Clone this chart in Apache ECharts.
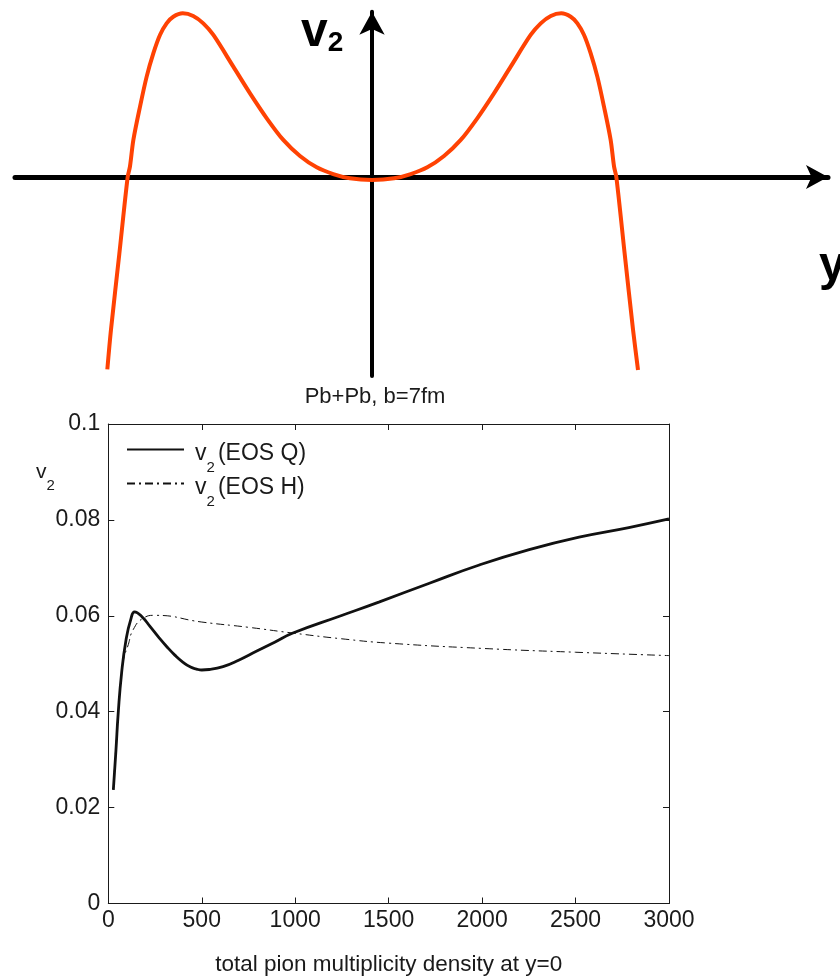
<!DOCTYPE html>
<html>
<head>
<meta charset="utf-8">
<script src="https://cdn.jsdelivr.net/npm/echarts@6/dist/echarts.min.js"></script>
<style>
  html, body { margin: 0; padding: 0; background: #fff; }
  #chart { width: 840px; height: 978px; }
</style>
</head>
<body>
<div id="chart"></div>
<script>
// Schematic v2(y): rapidity in units of the peak position, v2 in units of the peak height
const schemRapidity = [-1.393, -1.374, -1.33, -1.286, -1.274, -1.256, -1.221, -1.186, -1.151, -1.116, -1.081, -1.046, -0.996, -0.941, -0.888, -0.835,
                       -0.730, -0.642, -0.554, -0.467, -0.379, -0.291, -0.204, -0.116, 0.0,
                       0.116, 0.204, 0.291, 0.379, 0.467, 0.554, 0.642, 0.730,
                       0.835, 0.888, 0.941, 0.996, 1.046, 1.081, 1.116, 1.151, 1.186, 1.221, 1.256, 1.274, 1.286, 1.33, 1.374, 1.40];
const schemV2 = [-1.173, -0.933, -0.47, 0.0, 0.063, 0.226, 0.429, 0.612, 0.754, 0.866, 0.937, 0.977, 0.998, 0.982, 0.937, 0.866,
                 0.673, 0.510, 0.358, 0.226, 0.128, 0.059, 0.018, -0.008, -0.018,
                 -0.008, 0.018, 0.059, 0.128, 0.226, 0.358, 0.510, 0.673,
                 0.866, 0.937, 0.982, 0.998, 0.977, 0.937, 0.866, 0.754, 0.612, 0.429, 0.226, 0.063, 0.0, -0.47, -0.933, -1.177];

// Pb+Pb, b=7fm: elliptic flow vs total pion multiplicity density at y=0
const multQ = [27, 41, 53, 71, 95, 120, 141, 180, 223, 270, 312, 356, 400, 440, 472, 500, 540, 614, 700, 792, 890, 988,
               1237, 1451, 1718, 1985, 2252, 2519, 2785, 3000];
const v2Q = [0.0237, 0.0320, 0.0397, 0.0480, 0.0550, 0.0592, 0.0608, 0.0598, 0.0578, 0.0555, 0.0536, 0.0518, 0.0503, 0.0493, 0.0489, 0.0487, 0.0488, 0.0494, 0.0508, 0.0526, 0.0545, 0.0564,
             0.0599, 0.0629, 0.0668, 0.0706, 0.0738, 0.0764, 0.0784, 0.0802];
const multH = [27, 53, 80, 107, 133, 187, 250, 500, 750, 988, 1250, 1500, 2000, 2500, 3000];
const v2H = [0.0237, 0.0397, 0.0505, 0.0540, 0.0571, 0.0595, 0.0601, 0.0587, 0.0576, 0.0564, 0.0552, 0.0543, 0.0532, 0.0524, 0.0517];

const seriesNames = ['v2 (EOS Q)', 'v2 (EOS H)'];
const xTicks = [0, 500, 1000, 1500, 2000, 2500, 3000];
const xTickLabels = ['0', '500', '1000', '1500', '2000', '2500', '3000'];
const yTicks = [0, 0.02, 0.04, 0.06, 0.08, 0.1];
const yTickLabels = ['0', '0.02', '0.04', '0.06', '0.08', '0.1'];

const FONT = '"Liberation Sans", Arial, Helvetica, sans-serif';
const INK = '#1a1a1a';

const zip = (xs, ys) => xs.map((x, i) => [x, ys[i]]);
const tickLabel = (ticks, labels) => (v) => {
  const i = ticks.findIndex(t => Math.abs(t - v) < 1e-9);
  return i >= 0 ? labels[i] : '';
};

// legend text: "v" with subscript 2, then the EOS tag
const legendRich = {
  m0: { fontFamily: FONT, fontSize: 23, lineHeight: 23, color: INK, verticalAlign: 'top', padding: [4, 0, 0, 6] },
  m:  { fontFamily: FONT, fontSize: 23, lineHeight: 23, color: INK, verticalAlign: 'top', padding: [4, 0, 0, 0] },
  s:  { fontFamily: FONT, fontSize: 15, lineHeight: 15, color: INK, verticalAlign: 'top', width: 5, padding: [22, 0, 0, 0] }
};
const legendFormatter = (name) => '{m0|v}{s|2}{m|' + name.slice(2) + '}';

function legendFor(name, top) {
  return {
    data: [name],
    left: 126,
    top: top,
    padding: 0,
    orient: 'vertical',
    itemWidth: 57,
    itemHeight: 14,
    selectedMode: false,
    itemStyle: { opacity: 0 },
    formatter: legendFormatter,
    textStyle: { rich: legendRich }
  };
}

const frameAxis = {
  type: 'value',
  axisLine: { onZero: false, lineStyle: { color: INK, width: 1 } },
  axisTick: { inside: true, length: 6, lineStyle: { color: INK, width: 1 } },
  splitLine: { show: false }
};

const schemAxis = {
  type: 'value',
  axisTick: { show: false },
  axisLabel: { show: false },
  splitLine: { show: false }
};

const chart = echarts.init(document.getElementById('chart'), null, { renderer: 'canvas' });

chart.setOption({
  animation: false,
  backgroundColor: '#ffffff',
  textStyle: { fontFamily: FONT },
  title: {
    text: 'Pb+Pb, b=7fm',
    left: 375,
    textAlign: 'center',
    top: 386,
    padding: 0,
    textStyle: { fontFamily: FONT, fontSize: 22, lineHeight: 22, fontWeight: 'normal', color: INK }
  },
  legend: [legendFor(seriesNames[0], 438), legendFor(seriesNames[1], 472)],
  grid: [
    { left: 108.3, top: 424, width: 560.7, height: 479.5 },
    { left: 15, top: 11.7, width: 813, height: 364.2 }
  ],
  xAxis: [
    Object.assign({}, frameAxis, {
      gridIndex: 0, min: 0, max: 3000, interval: 500, position: 'bottom',
      axisLabel: { fontFamily: FONT, fontSize: 23, color: INK, margin: 6, formatter: tickLabel(xTicks, xTickLabels) },
      name: 'total pion multiplicity density at y=0',
      nameLocation: 'middle',
      nameGap: 50,
      nameTextStyle: { fontFamily: FONT, fontSize: 22.5, color: INK }
    }),
    Object.assign({}, frameAxis, {
      gridIndex: 0, min: 0, max: 3000, interval: 500, position: 'top',
      axisLabel: { show: false }
    }),
    Object.assign({}, schemAxis, {
      gridIndex: 1, min: -1.879, max: 2.4,
      axisLine: { onZero: true, symbol: ['none', 'arrow'], symbolSize: [18, 22], lineStyle: { color: '#000', width: 5 } }
    })
  ],
  yAxis: [
    Object.assign({}, frameAxis, {
      gridIndex: 0, min: 0, max: 0.1, interval: 0.02, position: 'left',
      axisLabel: { fontFamily: FONT, fontSize: 23, color: INK, margin: 8, formatter: tickLabel(yTicks, yTickLabels) }
    }),
    Object.assign({}, frameAxis, {
      gridIndex: 0, min: 0, max: 0.1, interval: 0.02, position: 'right',
      axisLabel: { show: false }
    }),
    Object.assign({}, schemAxis, {
      gridIndex: 1, min: -1.213, max: 1.008,
      axisLine: { onZero: true, symbol: ['none', 'arrow'], symbolSize: [19, 23], lineStyle: { color: '#000', width: 4 } }
    })
  ],
  graphic: [
    {
      type: 'text', x: 301, y: 9, z: 10,
      style: {
        text: '{v|v}{s|2}', fill: '#000', verticalAlign: 'top',
        rich: {
          v: { fontFamily: FONT, fontSize: 48, fontWeight: 'bold', lineHeight: 48, verticalAlign: 'top' },
          s: { fontFamily: FONT, fontSize: 28, fontWeight: 'bold', lineHeight: 28, verticalAlign: 'top', padding: [20, 0, 0, 0] }
        }
      }
    },
    {
      type: 'text', x: 819, y: 266.4, z: 10,
      style: { text: 'y', fill: '#000', font: 'bold 48px "Liberation Sans", Arial, sans-serif', verticalAlign: 'middle' }
    },
    {
      type: 'text', x: 36, y: 462, z: 10,
      style: {
        text: '{v|v}{s|2}', fill: INK, verticalAlign: 'top',
        rich: {
          v: { fontFamily: FONT, fontSize: 21, lineHeight: 21, verticalAlign: 'top' },
          s: { fontFamily: FONT, fontSize: 15, lineHeight: 15, verticalAlign: 'top', padding: [16, 0, 0, 0] }
        }
      }
    }
  ],
  series: [
    {
      type: 'line', name: 'schematic', xAxisIndex: 2, yAxisIndex: 2,
      data: zip(schemRapidity, schemV2),
      smooth: 0.3, symbol: 'none', clip: false, z: 3,
      lineStyle: { color: '#ff4203', width: 4 }
    },
    {
      type: 'line', name: seriesNames[0], xAxisIndex: 0, yAxisIndex: 0,
      data: zip(multQ, v2Q),
      smooth: 0.5, symbol: 'none', z: 4,
      color: '#111',
      lineStyle: { color: '#111', width: 2.8 }
    },
    {
      type: 'line', name: seriesNames[1], xAxisIndex: 0, yAxisIndex: 0,
      data: zip(multH, v2H),
      smooth: 0.5, symbol: 'none', z: 3,
      color: '#111',
      lineStyle: { color: '#111', width: 1, type: [8, 4, 2, 4] }
    }
  ]
});
</script>
</body>
</html>
